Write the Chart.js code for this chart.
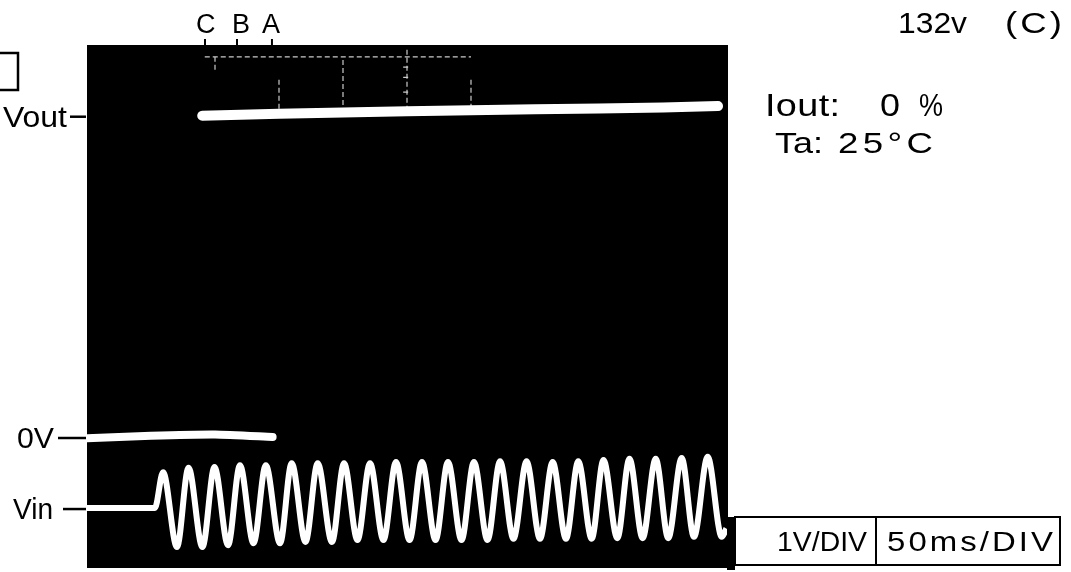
<!DOCTYPE html>
<html>
<head>
<meta charset="utf-8">
<script src="https://cdn.jsdelivr.net/npm/chart.js@4/dist/chart.umd.min.js"></script>
<style>
  html, body { margin: 0; padding: 0; background: #ffffff; }
  #scope { display: block; }
</style>
</head>
<body>
<canvas id="scope" width="1071" height="572"></canvas>
<script>
// Time axis: 50 ms per division, 10 divisions. Voltage axis: 1 V per division.
const timeRange = [0, 500];
const voltRange = [-2.078, 6.078];

// Output voltage trace (ms, V)
const voutT = [90, 150, 250, 350, 450, 493];
const voutV = [5.02, 5.05, 5.09, 5.12, 5.15, 5.17];

// 0 V reference trace (ms, V)
const zeroT = [0, 50, 100, 145];
const zeroV = [-0.02, 0.02, 0.04, 0.0];

// Input voltage: flat lead-in, then the AC wave's peaks and troughs (ms, V)
const vinLeadT = [0, 53];
const vinLeadV = [-1.11, -1.11];
const vinPeakT = [59.4, 79.3, 99.6, 119.5, 139.7, 159.9, 180.2, 200.8, 221.1, 241.4, 261.7,
                  282.0, 302.3, 322.7, 343.4, 363.8, 383.8, 403.5, 423.8, 444.3, 464.6, 484.9];
const vinPeakV = [-0.55, -0.48, -0.47, -0.44, -0.44, -0.41, -0.41, -0.41, -0.41, -0.39, -0.39,
                  -0.39, -0.39, -0.38, -0.38, -0.39, -0.38, -0.36, -0.34, -0.34, -0.33, -0.31];
const vinTroughT = [70.3, 90.2, 110.2, 130.1, 150.8, 170.7, 191.4, 211.3, 231.6, 252.0, 272.3,
                    292.6, 312.9, 333.2, 353.9, 374.2, 394.3, 414.3, 434.1, 454.1, 474.2, 495.9];
const vinTroughV = [-1.72, -1.72, -1.69, -1.66, -1.66, -1.64, -1.64, -1.61, -1.61, -1.61, -1.61,
                    -1.61, -1.61, -1.59, -1.59, -1.59, -1.59, -1.58, -1.58, -1.58, -1.56, -1.56];
const vinTailT = [499.5];
const vinTailV = [-1.43];

// Surviving graticule segments near the top of the screen (ms, V); null breaks the line
const gridSegT = [100, 100, null, 150, 150, null, 200, 200, null, 250, 250, null, 300, 300, null,
                  92, 300, null, 247, 253, null, 247, 253, null, 247, 253];
const gridSegV = [5.94, 5.70, null, 5.58, 5.08, null, 5.89, 5.08, null, 6.05, 5.08, null, 5.58, 5.14, null,
                  5.94, 5.94, null, 5.78, 5.78, null, 5.62, 5.62, null, 5.39, 5.39];

// Rise-time markers above the screen
const markerNames = ['C', 'B', 'A'];
const markerT = [92.2, 117.2, 144.5];

// Trace names on the left edge and the level each points at
const traceNames = ['Vout', '0V', 'Vin'];
const traceLevels = [voutV[0], 0, vinLeadV[0]];

// Captions
const captionTop = ['132v', '(C)'];
const captionLoad = ['Iout:', '0', '%'];
const captionTemp = ['Ta:', '25°C'];
const scaleBox = ['1V/DIV', '50ms/DIV'];

function pts(ts, vs) {
  return ts.map((t, i) => (t === null ? { x: NaN, y: null } : { x: t, y: vs[i] }));
}

const vinData = pts(vinLeadT, vinLeadV);
vinPeakT.forEach((t, i) => {
  vinData.push({ x: t, y: vinPeakV[i] });
  vinData.push({ x: vinTroughT[i], y: vinTroughV[i] });
});
vinData.push(...pts(vinTailT, vinTailV));

const FONT = '"Liberation Sans", Arial, sans-serif';

// Draws a caption so it spans the given width: glyphs are widened a little,
// then any remaining room goes into the letter spacing.
function fitText(ctx, str, x, y, w, size) {
  ctx.save();
  ctx.font = size + 'px ' + FONT;
  ctx.letterSpacing = '0px';
  const m = ctx.measureText(str).width;
  let sx = 1, ls = 0;
  if (w) {
    sx = Math.max(0.85, Math.min(1.22, w / m));
    if (str.length > 1) {
      ls = (w / sx - m) / (str.length - 1);
      ls = Math.max(-2, Math.min(10, ls));
    }
  }
  ctx.translate(x, y);
  ctx.scale(sx, 1);
  ctx.letterSpacing = ls + 'px';
  ctx.fillText(str, 0, 0);
  ctx.restore();
}

const screenPlugin = {
  id: 'screen',
  beforeDraw(chart) {
    const { ctx, chartArea: a } = chart;
    ctx.save();
    ctx.fillStyle = '#ffffff';
    ctx.fillRect(0, 0, chart.width, chart.height);
    ctx.fillStyle = '#000000';
    ctx.fillRect(a.left, a.top - 3, a.right - a.left + 1, a.bottom - a.top + 1);
    ctx.fillRect(a.right, 517, 8, a.bottom - 517);
    ctx.restore();
  },
  afterDraw(chart) {
    const { ctx, scales } = chart;
    const xs = scales.x, ys = scales.y;
    ctx.save();
    ctx.fillStyle = '#000000';
    ctx.strokeStyle = '#000000';
    ctx.textBaseline = 'alphabetic';
    ctx.textAlign = 'left';

    // marker letters with their short ticks
    const letterLeft = [196, 232, 262];
    markerNames.forEach((n, i) => {
      const px = xs.getPixelForValue(markerT[i]);
      fitText(ctx, n, letterLeft[i], 33, 0, 27);
      ctx.lineWidth = 2;
      ctx.beginPath();
      ctx.moveTo(px, 39);
      ctx.lineTo(px, 49);
      ctx.stroke();
    });

    // trace names with leader dashes
    const nameBox = [[3, 64], [17, 37], [13, 40]];
    const dashFrom = [70, 58, 63];
    traceNames.forEach((n, i) => {
      const py = ys.getPixelForValue(traceLevels[i]);
      fitText(ctx, n, nameBox[i][0], py + 11, nameBox[i][1], 29);
      ctx.lineWidth = 2.5;
      ctx.beginPath();
      ctx.moveTo(dashFrom[i], py + 1);
      ctx.lineTo(xs.left - 1, py + 1);
      ctx.stroke();
    });

    // captions on the right
    fitText(ctx, captionTop[0], 898, 33, 69, 30);
    fitText(ctx, captionTop[1], 1005, 33, 57, 30);
    fitText(ctx, captionLoad[0], 765, 116, 75, 31);
    fitText(ctx, captionLoad[1], 880, 116, 20, 31);
    fitText(ctx, captionLoad[2], 919, 116, 24, 31);
    fitText(ctx, captionTemp[0], 775, 153, 48, 30);
    fitText(ctx, captionTemp[1], 838, 153, 95, 30);

    // scale box
    ctx.lineWidth = 2;
    ctx.fillStyle = '#ffffff';
    ctx.fillRect(735, 517, 325, 48);
    ctx.strokeRect(735, 517, 325, 48);
    ctx.beginPath();
    ctx.moveTo(876, 517);
    ctx.lineTo(876, 565);
    ctx.stroke();
    ctx.fillStyle = '#000000';
    fitText(ctx, scaleBox[0], 777, 551, 90, 27);
    fitText(ctx, scaleBox[1], 887, 551, 166, 27);

    // small frame at the top-left corner
    ctx.lineWidth = 2.5;
    ctx.strokeRect(-3, 53, 21, 37);
    ctx.restore();
  }
};

new Chart(document.getElementById('scope'), {
  type: 'line',
  data: {
    datasets: [
      {
        label: 'graticule',
        data: pts(gridSegT, gridSegV),
        borderColor: 'rgba(255,255,255,0.8)',
        borderWidth: 1.2,
        borderDash: [5, 3],
        pointRadius: 0,
        spanGaps: false,
        tension: 0
      },
      {
        label: 'Vout',
        data: pts(voutT, voutV),
        borderColor: '#ffffff',
        borderWidth: 10,
        borderCapStyle: 'round',
        pointRadius: 0,
        tension: 0.3
      },
      {
        label: '0V',
        data: pts(zeroT, zeroV),
        borderColor: '#ffffff',
        borderWidth: 8,
        borderCapStyle: 'round',
        pointRadius: 0,
        tension: 0.2
      },
      {
        label: 'Vin',
        data: vinData,
        borderColor: '#ffffff',
        borderWidth: 6,
        borderJoinStyle: 'round',
        pointRadius: 0,
        cubicInterpolationMode: 'monotone'
      }
    ]
  },
  options: {
    responsive: false,
    animation: false,
    devicePixelRatio: 1,
    layout: { padding: { left: 87, right: 344, top: 48, bottom: 2 } },
    plugins: { legend: { display: false }, tooltip: { enabled: false } },
    scales: {
      x: { type: 'linear', min: timeRange[0], max: timeRange[1], display: false },
      y: { type: 'linear', min: voltRange[0], max: voltRange[1], display: false }
    }
  },
  plugins: [screenPlugin]
});
</script>
</body>
</html>
